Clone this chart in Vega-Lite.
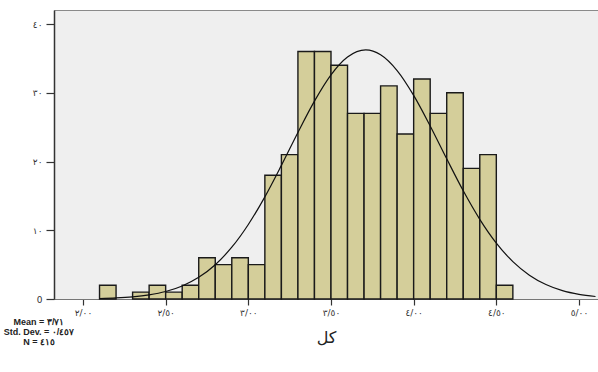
{
  "$schema": "https://vega.github.io/schema/vega-lite/v6.json",
  "width": 544,
  "height": 289,
  "autosize": {"type": "none"},
  "padding": {"left": 54, "top": 10, "right": 0, "bottom": 73},
  "background": "#ffffff",
  "title": {
    "text": ["Mean = ٣/٧١", "Std. Dev. = ٠/٤٥٧", "N = ٤١٥"],
    "orient": "bottom",
    "anchor": "start",
    "frame": "group",
    "align": "center",
    "baseline": "top",
    "dx": -15,
    "offset": -27,
    "font": "Liberation Sans",
    "fontSize": 9,
    "fontWeight": "bold",
    "lineHeight": 10,
    "color": "#222222"
  },
  "config": {
    "view": {"fill": "#efefef", "stroke": "#8a8a8a", "strokeWidth": 1},
    "axisX": {
      "grid": false,
      "domainColor": "#777777",
      "domainWidth": 1.2,
      "tickColor": "#333333",
      "tickSize": 6,
      "tickWidth": 1.2,
      "labelFont": "DejaVu Sans",
      "labelFontSize": 9,
      "labelColor": "#333333",
      "labelPadding": 3,
      "titleFont": "DejaVu Sans",
      "titleFontSize": 16,
      "titleFontWeight": "normal",
      "titleColor": "#222222",
      "titlePadding": 12
    },
    "axisY": {
      "grid": false,
      "domainColor": "#333333",
      "domainWidth": 1.5,
      "tickColor": "#333333",
      "tickSize": 8,
      "tickWidth": 1.2,
      "labelFont": "DejaVu Sans",
      "labelFontSize": 9,
      "labelColor": "#333333",
      "labelPadding": 4
    }
  },
  "datasets": {
    "bins": [
      {"start": 2.1, "end": 2.2, "count": 2},
      {"start": 2.3, "end": 2.4, "count": 1},
      {"start": 2.4, "end": 2.5, "count": 2},
      {"start": 2.5, "end": 2.6, "count": 1},
      {"start": 2.6, "end": 2.7, "count": 2},
      {"start": 2.7, "end": 2.8, "count": 6},
      {"start": 2.8, "end": 2.9, "count": 5},
      {"start": 2.9, "end": 3.0, "count": 6},
      {"start": 3.0, "end": 3.1, "count": 5},
      {"start": 3.1, "end": 3.2, "count": 18},
      {"start": 3.2, "end": 3.3, "count": 21},
      {"start": 3.3, "end": 3.4, "count": 36},
      {"start": 3.4, "end": 3.5, "count": 36},
      {"start": 3.5, "end": 3.6, "count": 34},
      {"start": 3.6, "end": 3.7, "count": 27},
      {"start": 3.7, "end": 3.8, "count": 27},
      {"start": 3.8, "end": 3.9, "count": 31},
      {"start": 3.9, "end": 4.0, "count": 24},
      {"start": 4.0, "end": 4.1, "count": 32},
      {"start": 4.1, "end": 4.2, "count": 27},
      {"start": 4.2, "end": 4.3, "count": 30},
      {"start": 4.3, "end": 4.4, "count": 19},
      {"start": 4.4, "end": 4.5, "count": 21},
      {"start": 4.5, "end": 4.6, "count": 2}
    ],
    "curve": [
      {"x": 2.1, "y": 0.07},
      {"x": 2.2, "y": 0.15},
      {"x": 2.3, "y": 0.31},
      {"x": 2.4, "y": 0.6},
      {"x": 2.5, "y": 1.09},
      {"x": 2.6, "y": 1.9},
      {"x": 2.7, "y": 3.15},
      {"x": 2.8, "y": 4.99},
      {"x": 2.9, "y": 7.53},
      {"x": 3.0, "y": 10.84},
      {"x": 3.1, "y": 14.86},
      {"x": 3.2, "y": 19.44},
      {"x": 3.3, "y": 24.23},
      {"x": 3.4, "y": 28.78},
      {"x": 3.5, "y": 32.6},
      {"x": 3.6, "y": 35.19},
      {"x": 3.71, "y": 36.23},
      {"x": 3.8, "y": 35.53},
      {"x": 3.9, "y": 33.23},
      {"x": 4.0, "y": 29.62},
      {"x": 4.1, "y": 25.17},
      {"x": 4.2, "y": 20.39},
      {"x": 4.3, "y": 15.74},
      {"x": 4.4, "y": 11.59},
      {"x": 4.5, "y": 8.13},
      {"x": 4.6, "y": 5.44},
      {"x": 4.7, "y": 3.47},
      {"x": 4.8, "y": 2.11},
      {"x": 4.9, "y": 1.22},
      {"x": 5.0, "y": 0.68},
      {"x": 5.1, "y": 0.36}
    ]
  },
  "layer": [
    {
      "data": {"name": "bins"},
      "mark": {"type": "rect", "fill": "#d4ce9a", "stroke": "#1a1a1a", "strokeWidth": 1.4},
      "encoding": {
        "x": {
          "field": "start",
          "type": "quantitative",
          "title": "كل",
          "scale": {"domain": [1.8246, 5.115], "nice": false, "zero": false},
          "axis": {
            "values": [2, 2.5, 3, 3.5, 4, 4.5, 5],
            "labelExpr": "datum.value == 2 ? '٢/٠٠' : datum.value == 2.5 ? '٢/٥٠' : datum.value == 3 ? '٣/٠٠' : datum.value == 3.5 ? '٣/٥٠' : datum.value == 4 ? '٤/٠٠' : datum.value == 4.5 ? '٤/٥٠' : '٥/٠٠'"
          }
        },
        "x2": {"field": "end"},
        "y": {
          "field": "count",
          "type": "quantitative",
          "title": null,
          "scale": {"domain": [0, 42.04], "nice": false},
          "axis": {
            "values": [0, 10, 20, 30, 40],
            "labelExpr": "datum.value == 0 ? '0' : datum.value == 10 ? '١٠' : datum.value == 20 ? '٢٠' : datum.value == 30 ? '٣٠' : '٤٠'"
          }
        },
        "y2": {"datum": 0}
      }
    },
    {
      "data": {"name": "curve"},
      "mark": {"type": "line", "color": "#111111", "strokeWidth": 1.2, "interpolate": "monotone", "clip": true},
      "encoding": {
        "x": {"field": "x", "type": "quantitative"},
        "y": {"field": "y", "type": "quantitative"}
      }
    }
  ]
}
